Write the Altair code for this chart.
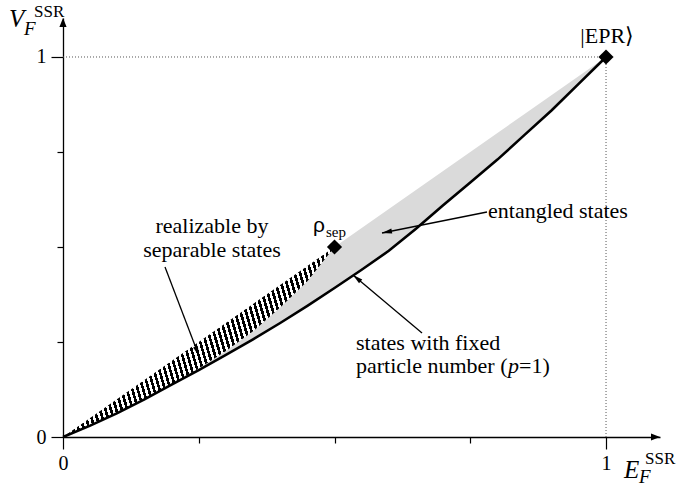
import math
import altair as alt
import pandas as pd

# ---------------- data ----------------
# lower boundary: states with fixed particle number (p=1)
curve_x = [0.0, 0.05, 0.1, 0.15, 0.2, 0.25, 0.3, 0.35, 0.4, 0.45, 0.5,
           0.55, 0.6, 0.65, 0.7, 0.75, 0.8, 0.85, 0.9, 0.95, 1.0]
curve_y = [0.0, 0.03, 0.063, 0.099, 0.138, 0.176, 0.216, 0.257, 0.3, 0.345, 0.392,
           0.44, 0.49, 0.548, 0.61, 0.67, 0.73, 0.795, 0.86, 0.93, 1.0]
# region realizable by separable states (lens between rho_sep and origin)
lens_x = [0.0, 0.05, 0.1, 0.15, 0.2, 0.25, 0.3, 0.35, 0.4, 0.45, 0.5]
lens_low = [0.0, 0.03, 0.063, 0.099, 0.138, 0.18, 0.226, 0.278, 0.341, 0.41, 0.5]
# special states
pt_x = [0.5, 1.0]
pt_y = [0.5, 1.0]
# axis ticks
x_major = [0, 1]
x_minor = [0.25, 0.5, 0.75]
y_major = [0, 1]
y_minor = [0.25, 0.5, 0.75]

# ---------------- layout ----------------
W, H = 597, 419
X_MAX, Y_MAX = 1.0994, 1.1026
KX, KY = W / X_MAX, H / Y_MAX   # pixels per unit
OX, OY = 63, 437                # origin in page pixels

def dx(p):
    return (p - OX) / KX

def dy(p):
    return (OY - p) / KY

xs = alt.Scale(domain=[0, X_MAX], nice=False, zero=False)
ys = alt.Scale(domain=[0, Y_MAX], nice=False, zero=False)
SERIF = "'Liberation Serif', 'Times New Roman', Times, 'DejaVu Serif', serif"
SANS = "'Liberation Sans', Arial, Helvetica, 'DejaVu Sans', sans-serif"

def X(field, axis=None):
    return alt.X(field, type="quantitative", scale=xs, axis=axis, title=None)

def Y(field, axis=None):
    return alt.Y(field, type="quantitative", scale=ys, axis=axis, title=None)

# ---------------- grey region (entangled states) ----------------
df_curve = pd.DataFrame({"x": curve_x, "y": curve_y, "diag": curve_x})

x_axis_major = alt.Axis(values=x_major, tickSize=12, tickColor="black", tickWidth=1.2,
                        domain=True, domainColor="black", domainWidth=1.3,
                        labelFont=SERIF, labelFontSize=20, labelColor="black",
                        labelPadding=4, labelFlush=False, grid=False, orient="bottom",
                        format="d")
y_axis_major = alt.Axis(values=y_major, tickSize=12, tickColor="black", tickWidth=1.2,
                        domain=True, domainColor="black", domainWidth=1.3,
                        labelFont=SERIF, labelFontSize=20, labelColor="black",
                        labelPadding=5, labelFlush=False, grid=False, orient="left",
                        format="d")
x_axis_minor = alt.Axis(values=x_minor, tickSize=6, tickColor="black", tickWidth=1.2,
                        domain=False, labels=False, grid=False, orient="bottom")
y_axis_minor = alt.Axis(values=y_minor, tickSize=6, tickColor="black", tickWidth=1.2,
                        domain=False, labels=False, grid=False, orient="left")

grey = alt.Chart(df_curve).mark_area(color="#dadada", opacity=1).encode(
    x=X("x", x_axis_major), y=Y("y", y_axis_major), y2="diag:Q")

minor = alt.Chart(df_curve).mark_point(opacity=0).encode(
    x=X("x", x_axis_minor), y=Y("y", y_axis_minor))

# ---------------- hatched lens ----------------
n_stripes = 60
stops = []
for i in range(n_stripes):
    a, b, c = i / n_stripes, (i + 0.52) / n_stripes, (i + 1) / n_stripes
    stops += [alt.GradientStop(offset=a, color="black"),
              alt.GradientStop(offset=b, color="black"),
              alt.GradientStop(offset=b, color="white"),
              alt.GradientStop(offset=c, color="white")]
# gradient vector spans the whole bounding box so no padding colour shows
hatch_fill = alt.LinearGradient(gradient="linear", stops=stops,
                                x1=-0.2, y1=0, x2=0.954, y2=-0.231)

df_lens = pd.DataFrame({"x": lens_x, "lo": lens_low, "hi": lens_x})
hatch = alt.Chart(df_lens).mark_area(fill=hatch_fill, opacity=1, strokeWidth=0).encode(
    x=X("x"), y=Y("lo"), y2="hi:Q")

# ---------------- dotted guides to |EPR> ----------------
df_dots = pd.DataFrame({"x": [0, pt_x[1]], "y": [pt_y[1], 0],
                        "x2": [pt_x[1], pt_x[1]], "y2": [pt_y[1], pt_y[1]]})
dots = alt.Chart(df_dots).mark_rule(color="#555555", strokeWidth=1, strokeDash=[1, 2]).encode(
    x=X("x"), y=Y("y"), x2="x2:Q", y2="y2:Q")

# ---------------- boundary curve ----------------
line = alt.Chart(df_curve).mark_line(color="black", strokeWidth=2.6).encode(
    x=X("x"), y=Y("y"))

# ---------------- special states ----------------
df_pts = pd.DataFrame({"x": pt_x, "y": pt_y})
diamonds = alt.Chart(df_pts).mark_point(shape="diamond", filled=True, color="black",
                                        size=230, opacity=1).encode(x=X("x"), y=Y("y"))

# ---------------- annotation arrows ----------------
ann = [  # start (px), tip (px)
    (165, 267, 199, 356),
    (487, 212, 382, 233),
    (422, 333, 353, 275),
]
rows = []
for x0, y0, x1, y1 in ann:
    ang = math.degrees(math.atan2(x1 - x0, -(y1 - y0))) % 360
    rows.append({"x": dx(x0), "y": dy(y0), "x2": dx(x1), "y2": dy(y1), "angle": ang})
df_ann = pd.DataFrame(rows)
ann_lines = alt.Chart(df_ann).mark_rule(color="black", strokeWidth=1.3).encode(
    x=X("x"), y=Y("y"), x2="x2:Q", y2="y2:Q")
ann_heads = alt.Chart(df_ann).mark_point(shape="M0,0L0.5,2L-0.5,2Z", filled=True,
                                         color="black", size=100, opacity=1).encode(
    x=X("x2"), y=Y("y2"), angle=alt.Angle("angle:Q", scale=None))

df_axh = pd.DataFrame({"x": [X_MAX, 0], "y": [0, Y_MAX], "angle": [90, 0]})
axis_heads = alt.Chart(df_axh).mark_point(shape="M0,0L0.8,2L-0.8,2Z", filled=True,
                                          color="black", size=81, opacity=1).encode(
    x=X("x"), y=Y("y"), angle=alt.Angle("angle:Q", scale=None))

# ---------------- texts ----------------
def text_layer(items, size, align="left", font=SERIF, style="normal"):
    df = pd.DataFrame([{"x": dx(a), "y": dy(b), "t": t} for t, a, b in items])
    return alt.Chart(df).mark_text(font=font, fontSize=size, align=align,
                                   baseline="alphabetic", fontStyle=style,
                                   color="black").encode(x=X("x"), y=Y("y"), text="t:N")

t_center = text_layer([("realizable by", 212, 233), ("separable states", 212, 257),
                       ("|EPR⟩", 607, 43)], 22, align="center")
t_left = text_layer([("entangled states", 488, 218), ("states with fixed", 356, 350),
                     ("particle number (", 356, 373), ("=1)", 519, 373)], 22)
t_ital = text_layer([("p", 508, 373)], 22, style="italic")
t_big = text_layer([("V", 9, 27), ("E", 624, 478)], 25, style="italic")
t_sub = text_layer([("F", 24, 35), ("F", 639, 483)], 19, style="italic")
t_sup = text_layer([("SSR", 34, 17), ("SSR", 645, 464)], 17)
t_rho = text_layer([("ρ", 313, 232)], 21, font=SANS)
t_sep = text_layer([("sep", 326, 237)], 15)

chart = alt.layer(
    grey, minor, hatch, dots, line, ann_lines, ann_heads, axis_heads, diamonds,
    t_center, t_left, t_ital, t_big, t_sub, t_sup, t_rho, t_sep
).resolve_axis(x="independent", y="independent").properties(
    width=W, height=H,
    padding={"left": OX, "top": 18, "right": 684 - OX - W, "bottom": 487 - 18 - H},
    autosize=alt.AutoSizeParams(type="none"),
    background="white",
).configure_view(stroke=None)

chart.save("out.html", embed_options={"renderer": "svg", "actions": False})
